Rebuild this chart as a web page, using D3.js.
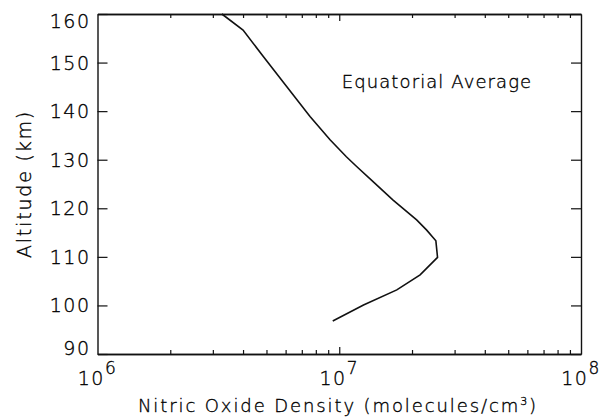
<!DOCTYPE html>
<html>
<head>
<meta charset="utf-8">
<script src="https://cdn.jsdelivr.net/npm/d3@7"></script>
<style>
  body { margin: 0; background: #fff; }
  text { font-family: "DejaVu Sans", sans-serif; font-weight: 300; fill: #000; stroke: #000; stroke-width: 0.35px; }
</style>
</head>
<body>
<div id="chart"></div>
<script>
// altitude profile of NO density
var altitude = [160, 156.7, 151.2, 145.0, 138.9, 134.1, 130.6, 128.6, 125.5, 121.7, 117.6, 115.5, 113.3, 109.9, 106.3, 103.2, 100.1, 96.8];
var density = [3.27e6, 4.0e6, 4.86e6, 6.07e6, 7.57e6, 9.16e6, 1.07e7, 1.18e7, 1.38e7, 1.67e7, 2.09e7, 2.30e7, 2.51e7, 2.55e7, 2.16e7, 1.73e7, 1.26e7, 9.4e6];
var yTicks = [90, 100, 110, 120, 130, 140, 150, 160];
var xExponents = [6, 7, 8];

var width = 600, height = 419;
var margin = {top: 14, right: 19, bottom: 65, left: 97.5};

var svg = d3.select("#chart").append("svg")
    .attr("width", width)
    .attr("height", height);

var x = d3.scaleLog()
    .domain([1e6, 1e8])
    .range([margin.left, width - margin.right]);

var y = d3.scaleLinear()
    .domain([90, 160])
    .range([height - margin.bottom, margin.top]);

// minor ticks 2..9 in each decade
var minor = [];
for (var e = 6; e < 8; e++) {
    for (var m = 2; m <= 9; m++) minor.push(m * Math.pow(10, e));
}

function styleAxis(g) {
    g.select(".domain").attr("stroke", "#111").attr("stroke-width", 1.4);
    g.selectAll(".tick line").attr("stroke", "#111").attr("stroke-width", 1.2);
    g.selectAll("text").remove();
}

// bottom axis, ticks inward
svg.append("g")
    .attr("transform", "translate(0," + y(90) + ")")
    .call(d3.axisBottom(x).tickValues(minor).tickSize(-4).tickSizeOuter(0))
    .call(styleAxis);
svg.append("g")
    .attr("transform", "translate(0," + y(90) + ")")
    .call(d3.axisBottom(x).tickValues([1e7]).tickSize(-7).tickSizeOuter(0))
    .call(styleAxis);

// top axis
svg.append("g")
    .attr("transform", "translate(0," + y(160) + ")")
    .call(d3.axisTop(x).tickValues(minor).tickSize(-4).tickSizeOuter(0))
    .call(styleAxis);
svg.append("g")
    .attr("transform", "translate(0," + y(160) + ")")
    .call(d3.axisTop(x).tickValues([1e7]).tickSize(-7).tickSizeOuter(0))
    .call(styleAxis);

// left / right axes
svg.append("g")
    .attr("transform", "translate(" + x(1e6) + ",0)")
    .call(d3.axisLeft(y).tickValues(yTicks).tickSize(-10).tickSizeOuter(0))
    .call(styleAxis);
svg.append("g")
    .attr("transform", "translate(" + x(1e8) + ",0)")
    .call(d3.axisRight(y).tickValues(yTicks).tickSize(-10).tickSizeOuter(0))
    .call(styleAxis);

// y tick labels (end labels nudged inward like the original)
svg.append("g").selectAll("text")
    .data(yTicks)
    .enter().append("text")
    .attr("x", x(1e6) - 7)
    .attr("y", function(d) {
        var off = d == 160 ? 7 : (d == 90 ? -6 : 0);
        return y(d) + 7 + off;
    })
    .attr("text-anchor", "end")
    .style("font-size", "19px")
    .style("letter-spacing", "1.5px")
    .text(function(d) { return d; });

// x tick labels 10^n
var xl = svg.append("g").selectAll("text")
    .data(xExponents)
    .enter().append("text")
    .attr("x", function(d) { return x(Math.pow(10, d)); })
    .attr("y", 385)
    .attr("text-anchor", "middle")
    .style("font-size", "19px")
    .style("letter-spacing", "1.5px");
xl.append("tspan").text("10");
xl.append("tspan")
    .attr("dy", -11)
    .style("font-size", "17px")
    .text(function(d) { return d; });

// axis titles
var xt = svg.append("text")
    .attr("x", 338)
    .attr("y", 412)
    .attr("text-anchor", "middle")
    .style("font-size", "18px")
    .style("letter-spacing", "1.9px")
    .text("Nitric Oxide Density (molecules/cm");
xt.append("tspan").attr("dy", -7).style("font-size", "11px").text("3");
xt.append("tspan").attr("dy", 7).text(")");

svg.append("text")
    .attr("transform", "translate(31," + y(125) + ") rotate(-90)")
    .attr("text-anchor", "middle")
    .style("font-size", "19px")
    .style("letter-spacing", "1.8px")
    .text("Altitude (km)");

svg.append("text")
    .attr("x", 437)
    .attr("y", 88)
    .attr("text-anchor", "middle")
    .style("font-size", "18px")
    .style("letter-spacing", "1.1px")
    .text("Equatorial Average");

// profile
var line = d3.line()
    .x(function(d, i) { return x(density[i]); })
    .y(function(d) { return y(d); });

svg.append("path")
    .datum(altitude)
    .attr("fill", "none")
    .attr("stroke", "#111")
    .attr("stroke-width", 1.6)
    .attr("d", line);
</script>
</body>
</html>
